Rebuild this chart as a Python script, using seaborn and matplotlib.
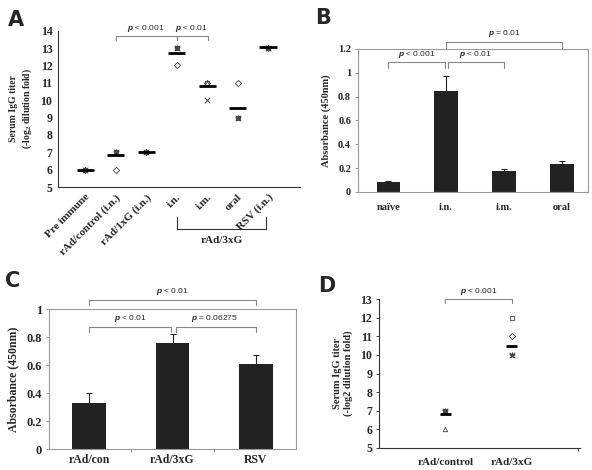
import matplotlib
matplotlib.use("Agg")
import matplotlib.pyplot as plt
import seaborn as sns
import pandas as pd
import numpy as np

# ---- panel A: serum IgG titer per group
a_groups = ['Pre immune', 'rAd/control (i.n.)', 'rAd/1xG (i.n.)', 'i.n.', 'i.m.', 'oral', 'RSV (i.n.)']
a_means = [6.0, 6.82, 7.0, 12.7, 10.82, 9.54, 13.08]
a_pt_group = [0, 0, 0, 0, 1, 1, 1, 1, 2, 2, 2, 2, 3, 3, 3, 3, 4, 4, 4, 4, 5, 5, 5, 5, 6, 6, 6, 6]
a_pt_mouse = [0, 1, 3, 4, 0, 1, 3, 4, 0, 1, 3, 4, 0, 1, 3, 4, 0, 1, 2, 3, 0, 1, 3, 4, 0, 1, 3, 4]
a_pt_value = [6, 6, 6, 6, 6, 7, 7, 7, 7, 7, 7, 7, 12, 13, 13, 13, 11, 11, 11, 10, 11, 9, 9, 9, 13, 13, 13, 13]

# ---- panel B: absorbance by route
b_groups = ['naïve', 'i.n.', 'i.m.', 'oral']
b_values = [0.085, 0.85, 0.18, 0.235]
b_errors = [0.005, 0.125, 0.015, 0.025]

# ---- panel C: absorbance by vaccine
c_groups = ['rAd/con', 'rAd/3xG', 'RSV']
c_values = [0.33, 0.76, 0.61]
c_errors = [0.07, 0.06, 0.065]

# ---- panel D: serum IgG titer, two groups
d_groups = ['rAd/control', 'rAd/3xG']
d_means = [6.8, 10.5]
d_pt_group = [0, 0, 0, 0, 1, 1, 1, 1]
d_pt_mouse = [1, 3, 4, 2, 1, 0, 4, 3]
d_pt_value = [7, 7, 7, 6, 12, 11, 10, 10]

mouse_markers = {0: 'D', 1: 's', 2: '^', 3: 'x', 4: '*'}

sns.set_style("ticks")
plt.rcParams['font.family'] = ['Liberation Serif', 'DejaVu Serif']
plt.rcParams['font.weight'] = 'bold'
plt.rcParams['mathtext.fontset'] = 'custom'
plt.rcParams['mathtext.it'] = 'Liberation Sans:italic'
plt.rcParams['mathtext.rm'] = 'Liberation Serif:bold'

fig = plt.figure(figsize=(5.92, 4.70), dpi=100)
W, H = 592.0, 470.0


def axes_px(left, top, right, bottom):
    return fig.add_axes([left / W, 1 - bottom / H, (right - left) / W, (bottom - top) / H])


def ptext(ax, x, y, txt, **kw):
    # p value label with italic p, sans font
    ax.text(x, y, r'$p$' + ' ' + txt, ha='center', va='bottom', fontsize=6,
            family='Liberation Sans', fontweight='normal', clip_on=False, **kw)


def bracket(ax, x1, x2, y, leg, color='#888888'):
    ax.plot([x1, x1, x2, x2], [y - leg, y, y, y - leg], color=color, lw=0.8, clip_on=False)


def dot_panel(ax, groups, means, pt_group, pt_mouse, pt_value, half):
    df = pd.DataFrame({'g': pt_group, 'm': pt_mouse, 'v': pt_value})
    for m, sub in df.groupby('m'):
        mk = mouse_markers[m]
        if mk in ('x', '*'):
            ax.scatter(sub['g'], sub['v'], marker=mk, s=16, c='#444444', linewidths=0.7, zorder=3)
        else:
            ax.scatter(sub['g'], sub['v'], marker=mk, s=10, facecolors='white',
                       edgecolors='#444444', linewidths=0.6, zorder=3)
    xs = np.arange(len(groups))
    ax.hlines(means, xs - half, xs + half, colors='black', lw=2.0, zorder=4)


# ================= A
axA = axes_px(58, 30.7, 300, 187)
dot_panel(axA, a_groups, a_means, a_pt_group, a_pt_mouse, a_pt_value, 0.28)
axA.set_ylim(5, 14)
axA.set_xlim(-0.89, 7.05)
axA.set_yticks(range(5, 15))
axA.set_xticks(range(len(a_groups)))
axA.set_xticklabels(a_groups, rotation=45, ha='right', rotation_mode='anchor', fontsize=8)
axA.tick_params(axis='y', labelsize=8.5, length=0, pad=4)
axA.tick_params(axis='x', length=0, pad=4)
axA.set_ylabel('Serum IgG titer\n(-log$_2$ dilution fold)', fontsize=7, fontweight='bold', labelpad=5)
sns.despine(ax=axA)
for s in ('left', 'bottom'):
    axA.spines[s].set_color('#333333')
    axA.spines[s].set_linewidth(0.8)
bracket(axA, 1, 3, 13.71, 0.24)
bracket(axA, 3, 4.02, 13.71, 0.24)
ptext(axA, 2.0, 13.8, '< 0.001')
ptext(axA, 3.5, 13.8, '< 0.01')
# rAd/3xG group bracket under i.n. .. oral
axA.plot([3, 3, 5.95, 5.95], [3.25, 2.56, 2.56, 3.25], color='#333333', lw=0.8, clip_on=False)
axA.text(4.5, 2.2, 'rAd/3xG', ha='center', va='top', fontsize=8, fontweight='bold', clip_on=False)

# ================= B
axB = axes_px(358, 49, 588, 192)
sns.barplot(x=b_groups, y=b_values, ax=axB, color='#222222', width=0.4, saturation=1,
            edgecolor='#222222', linewidth=0)
axB.errorbar(range(len(b_groups)), b_values, yerr=b_errors, fmt='none', ecolor='#222222',
             elinewidth=0.8, capsize=2, capthick=0.8)
axB.set_ylim(0, 1.2)
axB.set_xlim(-0.52, 3.45)
axB.set_yticks([0, 0.2, 0.4, 0.6, 0.8, 1, 1.2])
axB.set_yticklabels(['0', '0.2', '0.4', '0.6', '0.8', '1', '1.2'])
axB.tick_params(axis='y', labelsize=7.5, length=2, width=0.6, color='#888888', pad=3)
axB.tick_params(axis='x', labelsize=7.5, length=0, pad=8)
axB.set_ylabel('Absorbance (450nm)', fontsize=7.5, fontweight='bold', labelpad=5)
for s in axB.spines.values():
    s.set_color('#999999')
    s.set_linewidth(0.8)
bracket(axB, 0, 0.98, 1.09, 0.05)
bracket(axB, 1.04, 2.0, 1.09, 0.05)
bracket(axB, 1.0, 3.0, 1.26, 0.06)
ptext(axB, 0.5, 1.11, '< 0.001')
ptext(axB, 1.5, 1.11, '< 0.01')
ptext(axB, 2.0, 1.285, '= 0.01')

# ================= C
axC = axes_px(49, 309, 296, 449)
sns.barplot(x=c_groups, y=c_values, ax=axC, color='#222222', width=0.4, saturation=1,
            edgecolor='#222222', linewidth=0)
axC.errorbar(range(len(c_groups)), c_values, yerr=c_errors, fmt='none', ecolor='#222222',
             elinewidth=0.8, capsize=2, capthick=0.8)
axC.set_ylim(0, 1)
axC.set_xlim(-0.48, 2.48)
axC.set_yticks([0, 0.2, 0.4, 0.6, 0.8, 1])
axC.set_yticklabels(['0', '0.2', '0.4', '0.6', '0.8', '1'])
axC.set_xticks([0.5, 1.5], minor=True)
axC.tick_params(axis='x', which='minor', length=2, width=0.6, color='#888888')
axC.tick_params(axis='y', labelsize=9, length=2, width=0.6, color='#888888', pad=3)
axC.tick_params(axis='x', which='major', labelsize=8.5, length=0, pad=3.5)
axC.set_ylabel('Absorbance (450nm)', fontsize=8.5, fontweight='bold', labelpad=5)
for s in axC.spines.values():
    s.set_color('#999999')
    s.set_linewidth(0.8)
bracket(axC, 0, 0.98, 0.87, 0.035)
bracket(axC, 1.04, 2.0, 0.87, 0.035)
bracket(axC, 0, 2.0, 1.065, 0.035)
ptext(axC, 0.5, 0.89, '< 0.01')
ptext(axC, 1.5, 0.89, '= 0.06275')
ptext(axC, 1.0, 1.085, '< 0.01')

# ================= D
axD = axes_px(379, 299, 580, 448)
dot_panel(axD, d_groups, d_means, d_pt_group, d_pt_mouse, d_pt_value, 0.08)
axD.set_ylim(5, 13)
axD.set_xlim(-1.0, 2.03)
axD.set_yticks(range(5, 14))
axD.set_xticks(range(len(d_groups)))
axD.set_xticklabels(d_groups, fontsize=8)
axD.set_xticks([0, 1, 2], minor=True)
axD.tick_params(axis='x', which='minor', length=2, width=0.6)
axD.tick_params(axis='y', labelsize=8.5, length=2, width=0.6, pad=3)
axD.tick_params(axis='x', which='major', length=0, pad=7)
axD.set_ylabel('Serum IgG titer\n(-log2 dilution fold)', fontsize=7.5, fontweight='bold', labelpad=5)
sns.despine(ax=axD)
for s in ('left', 'bottom'):
    axD.spines[s].set_color('#333333')
    axD.spines[s].set_linewidth(0.8)
bracket(axD, 0, 1, 13.0, 0.2)
ptext(axD, 0.5, 13.1, '< 0.001')

# panel letters
for letter, x, y in [('A', 8, 26), ('B', 315, 24), ('C', 5, 287), ('D', 318, 292)]:
    fig.text(x / W, 1 - y / H, letter, fontsize=15, fontweight='bold', family='DejaVu Sans',
             ha='left', va='baseline')

fig.savefig('out.png', dpi=100)
